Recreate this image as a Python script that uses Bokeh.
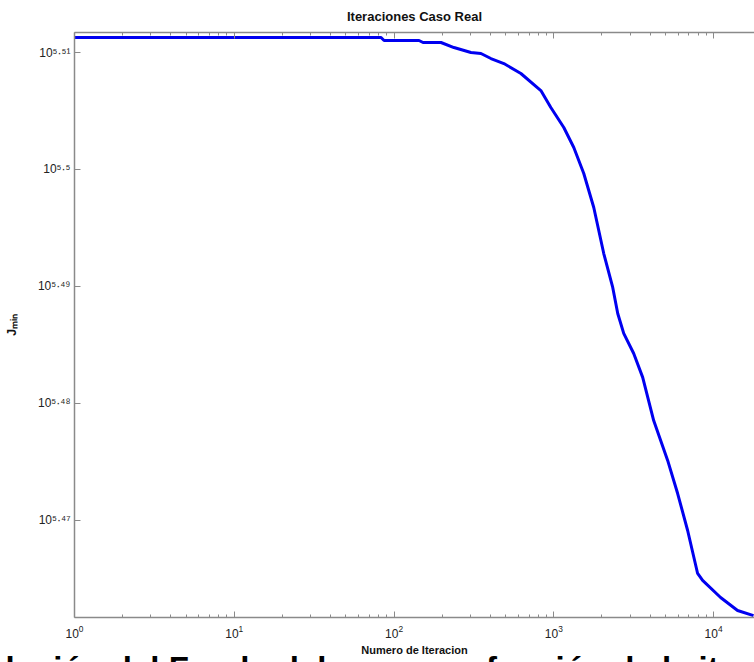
from bokeh.plotting import figure
from bokeh.layouts import column
from bokeh.models import FixedTicker, LogAxis, LogTickFormatter, Range1d
from bokeh.core.properties import value
from bokeh.embed import file_html
from bokeh.resources import INLINE

# ---- data ----
iterations = [1, 82.9, 86.6, 143.3, 151.8, 196.7, 237.1, 302.9, 349.8, 403.9,
              486.9, 622.1, 829.7, 957.8, 1154.8, 1333.5, 1539.9, 1778.3, 2053.5, 2337.2,
              2511.9, 2738.4, 3162.3, 3599.4, 4217.0, 5157.7, 5956.6, 6879.3, 7943.3, 8535.7,
              11059, 14125, 17783]
j_min = [324550, 324550, 324360, 324360, 324230, 324230, 323910, 323590, 323530, 323210,
         322890, 322260, 321180, 320110, 318850, 317600, 315980, 313870, 311040, 308970,
         307390, 306190, 304980, 303550, 300980, 298630, 296690, 294540, 292060, 291660,
         290680, 289940, 289650]

x_major = [1, 10, 100, 1000, 10000]
x_minor = [m * d for d in x_major for m in range(2, 10)]
y_tick_exponents = [5.47, 5.48, 5.49, 5.50, 5.51]
y_tick_labels = ["10⁵·⁴⁷", "10⁵·⁴⁸", "10⁵·⁴⁹", "10⁵·⁵", "10⁵·⁵¹"]

title_text = "Iteraciones Caso Real"
x_label = "Numero de Iteracion"
y_label = "Jₘᵢₙ"
caption_text = "lución del Fondo del cauce en función de la iteración"

x_start, x_end = 1, 18030
y_start, y_end = 289540, 324870

W, H = 754, 662
STRIP = 17          # height of the strip where the cut-off document caption shows
AX = "#8a8a8a"
FONT = "Liberation Sans"

p = figure(width=W, height=H, x_axis_type="log", y_axis_type="log",
           x_range=Range1d(x_start, x_end), y_range=Range1d(y_start, y_end),
           output_backend="svg", toolbar_location=None,
           min_border_left=73, min_border_right=0, min_border_top=32, min_border_bottom=45,
           title=title_text)
p.outline_line_color = None
p.background_fill_color = "white"
p.border_fill_color = "white"
p.xgrid.grid_line_color = None
p.ygrid.grid_line_color = None

p.title.align = "center"
p.title.vertical_align = "top"
p.title.text_font = FONT
p.title.text_font_size = "13px"
p.title.text_font_style = "bold"
p.title.text_color = "#111111"
p.title.standoff = 14

# bottom axis
xa = p.xaxis[0]
xa.ticker = FixedTicker(ticks=x_major, minor_ticks=x_minor)
xa.formatter = LogTickFormatter()
xa.axis_line_color = AX
xa.axis_line_width = 1.5
xa.major_tick_line_color = AX
xa.minor_tick_line_color = AX
xa.major_tick_in = 6
xa.major_tick_out = 0
xa.minor_tick_in = 3
xa.minor_tick_out = 0
xa.major_label_standoff = 7
xa.major_label_text_font = FONT
xa.major_label_text_font_size = "12px"
xa.major_label_text_color = "#222222"
xa.axis_label = x_label
xa.axis_label_text_font = FONT
xa.axis_label_text_font_size = "11px"
xa.axis_label_text_font_style = "bold"
xa.axis_label_text_color = "#111111"
xa.axis_label_standoff = 3

# top axis (box ticks)
top = LogAxis(ticker=FixedTicker(ticks=x_major, minor_ticks=x_minor),
              major_label_text_font_size="1px", major_label_text_color=None,
              axis_line_color=AX, axis_line_width=1.5,
              major_tick_line_color=AX, minor_tick_line_color=AX,
              major_tick_in=6, major_tick_out=0, minor_tick_in=3, minor_tick_out=0,
              major_label_standoff=0)
p.add_layout(top, "above")

# left axis
y_ticks = [10 ** e for e in y_tick_exponents]
ya = p.yaxis[0]
ya.ticker = FixedTicker(ticks=y_ticks, minor_ticks=[])
ya.major_label_overrides = {t: lab for t, lab in zip(y_ticks, y_tick_labels)}
ya.axis_line_color = AX
ya.axis_line_width = 1.5
ya.major_tick_line_color = AX
ya.major_tick_in = 6
ya.major_tick_out = 0
ya.minor_tick_line_color = None
ya.major_label_standoff = 4
ya.major_label_text_font = FONT
ya.major_label_text_font_size = "12px"
ya.major_label_text_color = "#222222"
ya.axis_label = y_label
ya.axis_label_text_font = FONT
ya.axis_label_text_font_size = "13px"
ya.axis_label_text_font_style = "bold"
ya.axis_label_text_color = "#111111"
ya.axis_label_standoff = 16

p.line(iterations, j_min, line_color="#0000f0", line_width=3)

# transparent strip laid over the bottom of the plot: the document caption,
# whose lower half is cut off by the window edge as in the reference
cap = figure(width=W, height=STRIP, x_range=Range1d(0, W), y_range=Range1d(0, STRIP),
             output_backend="svg", toolbar_location=None,
             x_axis_location=None, y_axis_location=None, min_border=0,
             margin=(-STRIP, 0, 0, 0))
cap.grid.visible = False
cap.outline_line_color = None
cap.background_fill_color = None
cap.border_fill_color = None
for fig in (p, cap):
    if "frame_align" in fig.properties():
        fig.frame_align = False
cap.text(x=[5], y=[13], text=[caption_text], text_font=value(FONT),
         text_font_size="33px", text_font_style="bold", text_color="#000000",
         text_baseline="top", text_align="left")

layout = column(p, cap, spacing=0)
open("out.html", "w").write(file_html(layout, INLINE))
